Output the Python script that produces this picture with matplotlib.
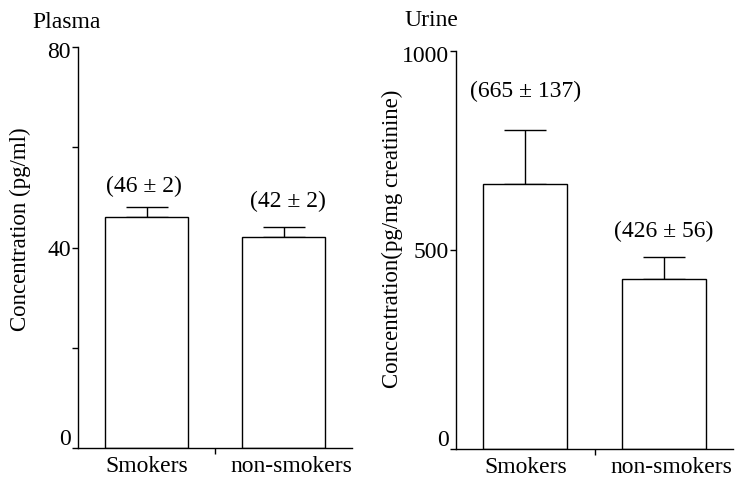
import matplotlib.pyplot as plt
from matplotlib.transforms import ScaledTranslation

plt.rcParams['font.family'] = ['Liberation Serif', 'DejaVu Serif']

groups = ['Smokers', 'non-smokers']

plasma_mean = [46, 42]
plasma_sd = [2, 2]
plasma_ticks = [0, 40, 80]
plasma_minor = [20, 60]

urine_mean = [665, 426]
urine_sd = [137, 56]
urine_ticks = [0, 500, 1000]

FS = 17
W, H = 738, 479


def shift(artist, dx_px, dy_px, fig):
    artist.set_transform(artist.get_transform()
                         + ScaledTranslation(dx_px / 100, dy_px / 100, fig.dpi_scale_trans))


def panel(fig, rect, means, sds, ticks, ymax, label_offsets, minor=None):
    ax = fig.add_axes(rect)
    x = list(range(len(means)))
    ax.bar(x, means, width=0.61, color='white', edgecolor='black', linewidth=1.0, zorder=2)
    ax.errorbar(x, means, yerr=[[0] * len(sds), sds], fmt='none', ecolor='black',
                elinewidth=1.0, capsize=15, capthick=1.0, zorder=1)
    for i, (m, s) in enumerate(zip(means, sds)):
        dx, dy = label_offsets[i]
        ax.annotate('(%d ± %d)' % (m, s), (i, m + s), xytext=(dx * 0.72, dy * 0.72),
                    textcoords='offset points', ha='center', va='center', fontsize=FS)
    ax.set_xlim(-0.5, 1.5)
    ax.set_ylim(0, ymax)
    for side in ['top', 'right']:
        ax.spines[side].set_visible(False)
    for side in ['left', 'bottom']:
        ax.spines[side].set_linewidth(1.0)
    ax.set_yticks(ticks)
    ax.set_yticklabels([str(t) for t in ticks], fontsize=FS)
    if minor:
        ax.set_yticks(minor, minor=True)
    ax.tick_params(axis='y', which='both', direction='out', length=4, width=1.0, pad=1)
    ax.set_xticks(x)
    ax.set_xticklabels(groups, fontsize=FS)
    ax.set_xticks([0.5], minor=True)
    ax.tick_params(axis='x', which='major', length=0, pad=6)
    ax.tick_params(axis='x', which='minor', length=4, width=1.0, direction='out')
    for lab in ax.get_yticklabels():
        if lab.get_text() == '0':
            shift(lab, 0, 11, fig)
        elif lab.get_text() == str(ticks[-1]):
            shift(lab, 0, -3, fig)
    shift(ax.get_xticklabels()[1], 8, 0, fig)
    return ax


fig = plt.figure(figsize=(W / 100, H / 100), dpi=100)

ax1 = panel(fig, [78 / W, 31 / H, 274 / W, 401 / H], plasma_mean, plasma_sd,
            plasma_ticks, 80, [(-3, 21), (4, 26)], minor=plasma_minor)
ax2 = panel(fig, [456 / W, 30 / H, 277 / W, 398 / H], urine_mean, urine_sd,
            urine_ticks, 1000, [(0, 38), (0, 26)])

fig.text(32 / W, 1 - 23 / H, 'Plasma', fontsize=FS, ha='left', va='center')
fig.text(404 / W, 1 - 20 / H, 'Urine', fontsize=FS, ha='left', va='center')
fig.text(20 / W, 1 - 229 / H, 'Concentration (pg/ml)', fontsize=16.5,
         rotation=90, ha='center', va='center')
fig.text(392 / W, 1 - 239 / H, 'Concentration(pg/mg creatinine)', fontsize=16.5,
         rotation=90, ha='center', va='center')

fig.savefig('out.png', dpi=100)
